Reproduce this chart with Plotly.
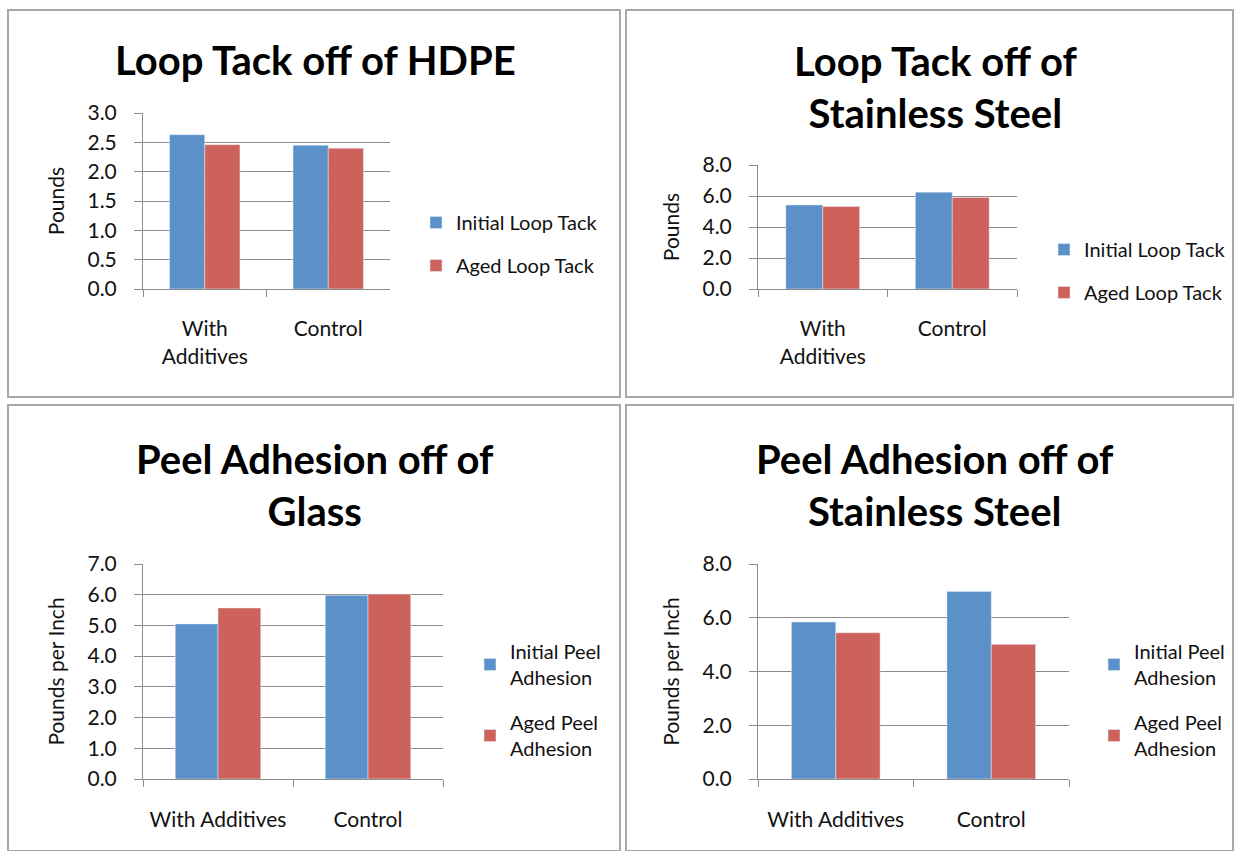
import plotly.graph_objects as go

W, H = 1235, 851

categories_two_line = ["With<br>Additives", "Control"]
categories_one_line = ["With Additives", "Control"]

hdpe_initial = [2.63, 2.45]
hdpe_aged = [2.46, 2.40]

ss_loop_initial = [5.42, 6.25]
ss_loop_aged = [5.33, 5.90]

glass_initial = [5.05, 5.98]
glass_aged = [5.57, 6.02]

ss_peel_initial = [5.84, 6.98]
ss_peel_aged = [5.44, 5.01]

titles = ["Loop Tack off of HDPE", "Loop Tack off of<br>Stainless Steel",
          "Peel Adhesion off of<br>Glass", "Peel Adhesion off of<br>Stainless Steel"]
y_titles = ["Pounds", "Pounds", "Pounds per Inch", "Pounds per Inch"]
loop_names = ["Initial Loop Tack", "Aged Loop Tack"]
peel_names = ["Initial Peel<br>Adhesion", "Aged Peel<br>Adhesion"]

BLUE = "#5B90C9"
RED = "#CD625D"
GRID = "#8C8C8C"
FONT = "Lato"
TXT = "#111111"

def px_x(v):
    return v / W

def px_y(v):
    return 1 - v / H

# plot areas in pixels: (x0, x1, ytop, ybottom)
areas = [(143, 390, 113, 289), (758, 1017, 165, 289),
         (143, 443, 564, 779), (758, 1069, 564, 779)]
yranges = [(0, 3, 0.5), (0, 8, 2), (0, 7, 1), (0, 8, 2)]
data = [
    (categories_two_line, hdpe_initial, hdpe_aged, loop_names),
    (categories_two_line, ss_loop_initial, ss_loop_aged, loop_names),
    (categories_one_line, glass_initial, glass_aged, peel_names),
    (categories_one_line, ss_peel_initial, ss_peel_aged, peel_names),
]
# legend positions (px) and gaps
legend_pos = [(416, 244, 14), (1044, 271, 14), (470, 700, 16), (1094, 700, 16)]
title_pos = [(315, 60), (935, 87), (315, 485), (935, 485)]
boxes = [(8, 10, 620, 397), (626, 10, 1233, 397), (8, 405, 620, 851), (626, 405, 1233, 851)]
xstand = [21, 21, 22, 22]

fig = go.Figure()
layout = dict(width=W, height=H, margin=dict(l=0, r=0, t=0, b=0, pad=0),
              autosize=False,
              paper_bgcolor="white", plot_bgcolor="white",
              font=dict(family=FONT, color=TXT),
              barmode="group", bargap=0.43, bargroupgap=0,
              shapes=[], annotations=[])

for i in range(4):
    cats, ini, aged, names = data[i]
    sfx = "" if i == 0 else str(i + 1)
    leg = "legend" if i == 0 else "legend" + str(i + 1)
    fig.add_trace(go.Bar(x=cats, y=ini, name=names[0], marker_color=BLUE,
                         xaxis="x" + sfx, yaxis="y" + sfx, legend=leg,
                         legendgroup="a%d" % i))
    fig.add_trace(go.Bar(x=cats, y=aged, name=names[1], marker_color=RED,
                         xaxis="x" + sfx, yaxis="y" + sfx, legend=leg,
                         legendgroup="b%d" % i))
    x0, x1, yt, yb = areas[i]
    lo, hi, dt = yranges[i]
    layout["xaxis" + sfx] = dict(domain=[px_x(x0), px_x(x1)], anchor="y" + sfx,
                                 type="category", showline=True, linecolor=GRID,
                                 ticks="outside", tickson="boundaries", ticklen=7,
                                 tickcolor=GRID, showgrid=False, automargin=False,
                                 tickangle=0,
                                 tickfont=dict(size=21, family=FONT, color=TXT),
                                 ticklabelstandoff=xstand[i])
    layout["yaxis" + sfx] = dict(domain=[px_y(yb), px_y(yt)], anchor="x" + sfx,
                                 range=[lo, hi], dtick=dt, tickformat=".1f",
                                 showline=True, linecolor=GRID, showgrid=True,
                                 gridcolor=GRID, gridwidth=1, ticks="outside",
                                 ticklen=8, tickcolor=GRID, zeroline=False,
                                 automargin=False,
                                 tickfont=dict(size=21, family=FONT, color=TXT),
                                 ticklabelstandoff=13,
                                 title=dict(text=y_titles[i], standoff=17,
                                            font=dict(size=21, family=FONT, color=TXT)))
    lx, ly, gap = legend_pos[i]
    layout[leg] = dict(x=px_x(lx), y=px_y(ly), xanchor="left", yanchor="middle",
                       bgcolor="rgba(0,0,0,0)", tracegroupgap=gap,
                       font=dict(size=20, family=FONT, color=TXT),
                       itemwidth=30, traceorder="grouped")
    tx, ty = title_pos[i]
    layout["annotations"].append(dict(text="<b>" + titles[i] + "</b>", x=px_x(tx), y=px_y(ty),
                                      xref="paper", yref="paper", showarrow=False,
                                      xanchor="center", yanchor="middle",
                                      font=dict(size=40, family=FONT, color="#000000")))
    bx0, by0, bx1, by1 = boxes[i]
    layout["shapes"].append(dict(type="rect", xref="paper", yref="paper",
                                 x0=px_x(bx0), x1=px_x(bx1), y0=px_y(by1), y1=px_y(by0),
                                 line=dict(color="#A8A8A8", width=2)))

fig.update_layout(**layout)
fig.write_html("out.html", config={"displayModeBar": False},
               post_script="document.body.style.margin='0';document.body.style.overflow='hidden';")
